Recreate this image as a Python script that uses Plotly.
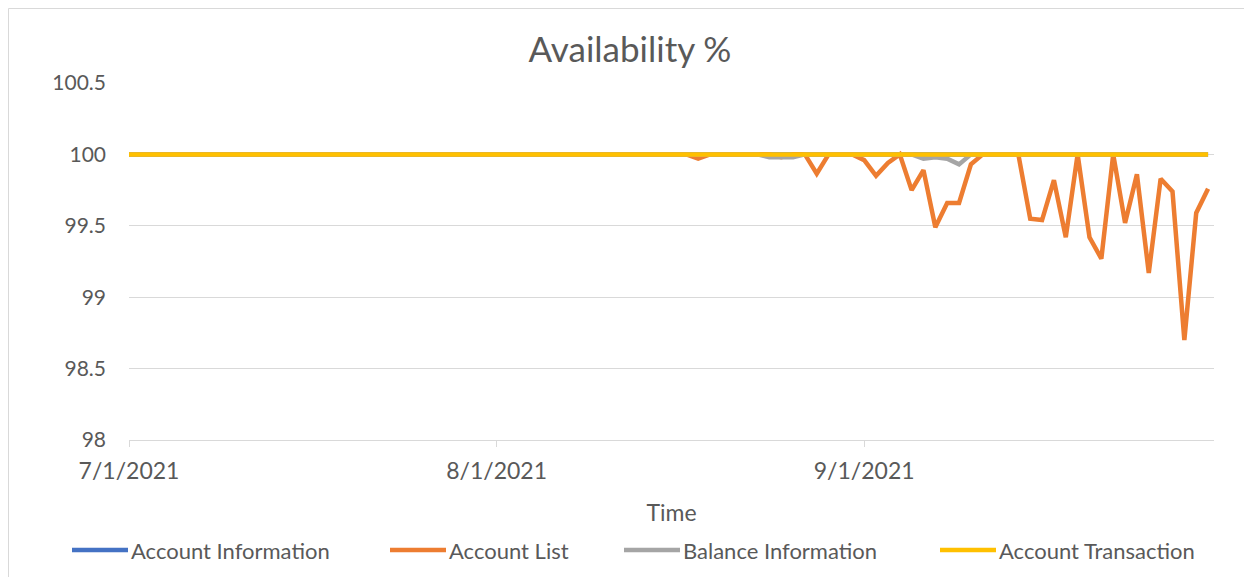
import pandas as pd
import plotly.graph_objects as go

dates = pd.date_range("2021-07-01", "2021-09-30", freq="D")

account_information = [
    100, 100, 100, 100, 100, 100, 100, 100, 100, 100,
    100, 100, 100, 100, 100, 100, 100, 100, 100, 100,
    100, 100, 100, 100, 100, 100, 100, 100, 100, 100,
    100, 100, 100, 100, 100, 100, 100, 100, 100, 100,
    100, 100, 100, 100, 100, 100, 100, 100, 100, 100,
    100, 100, 100, 100, 100, 100, 100, 100, 100, 100,
    100, 100, 100, 100, 100, 100, 100, 100, 100, 100,
    100, 100, 100, 100, 100, 100, 100, 100, 100, 100,
    100, 100, 100, 100, 100, 100, 100, 100, 100, 100,
    100, 100,
]

account_list = [
    100, 100, 100, 100, 100, 100, 100, 100, 100, 100,
    100, 100, 100, 100, 100, 100, 100, 100, 100, 100,
    100, 100, 100, 100, 100, 100, 100, 100, 100, 100,
    100, 100, 100, 100, 100, 100, 100, 100, 100, 100,
    100, 100, 100, 100, 100, 100, 100, 100, 99.97, 100,
    100, 100, 100, 100, 100, 99.98, 100, 100, 99.865, 100,
    100, 100, 99.96, 99.85, 99.94, 100, 99.75, 99.89, 99.49, 99.66,
    99.66, 99.93, 100, 100, 100, 100, 99.55, 99.54, 99.82, 99.42,
    100, 99.42, 99.27, 100, 99.52, 99.86, 99.17, 99.83, 99.74, 98.70,
    99.59, 99.76,
]

balance_information = [
    100, 100, 100, 100, 100, 100, 100, 100, 100, 100,
    100, 100, 100, 100, 100, 100, 100, 100, 100, 100,
    100, 100, 100, 100, 100, 100, 100, 100, 100, 100,
    100, 100, 100, 100, 100, 100, 100, 100, 100, 100,
    100, 100, 100, 100, 100, 100, 100, 100, 100, 100,
    100, 100, 100, 100, 99.98, 99.98, 99.98, 100, 100, 100,
    100, 100, 100, 100, 100, 100, 100, 99.97, 99.98, 99.97,
    99.93, 100, 100, 100, 100, 100, 100, 100, 100, 100,
    100, 100, 100, 100, 100, 100, 100, 100, 100, 100,
    100, 100,
]

account_transaction = [
    100, 100, 100, 100, 100, 100, 100, 100, 100, 100,
    100, 100, 100, 100, 100, 100, 100, 100, 100, 100,
    100, 100, 100, 100, 100, 100, 100, 100, 100, 100,
    100, 100, 100, 100, 100, 100, 100, 100, 100, 100,
    100, 100, 100, 100, 100, 100, 100, 100, 100, 100,
    100, 100, 100, 100, 100, 100, 100, 100, 100, 100,
    100, 100, 100, 100, 100, 100, 100, 100, 100, 100,
    100, 100, 100, 100, 100, 100, 100, 100, 100, 100,
    100, 100, 100, 100, 100, 100, 100, 100, 100, 100,
    100, 100,
]

series_names = ["Account Information", "Account List", "Balance Information", "Account Transaction"]
series_values = [account_information, account_list, balance_information, account_transaction]
series_colors = ["#4472C4", "#ED7D31", "#A5A5A5", "#FFC000"]

x_tickvals = ["2021-07-01", "2021-08-01", "2021-09-01"]
x_ticktext = ["7/1/2021", "8/1/2021", "9/1/2021"]
y_tickvals = [98, 98.5, 99, 99.5, 100, 100.5]
y_ticktext = ["98", "98.5", "99", "99.5", "100", "100.5"]

FONT = "Lato, 'Open Sans', sans-serif"
TXT = "#595959"
GRID = "#D9D9D9"

fig = go.Figure()
for name, vals, col in zip(series_names, series_values, series_colors):
    fig.add_trace(go.Scatter(
        x=dates, y=vals, mode="lines", name=name,
        line=dict(color=col, width=4.5), showlegend=False,
    ))

# page has an 8px body margin; figure sized/positioned to compensate
OFF = 8
W, H = 1252 - OFF, 577 - OFF
# plot area in page px: left 129, right 1214, top 83, bottom 440
L = 129 - OFF
T = 83 - OFF
R = W - (1214 - OFF)
B = H - (440 - OFF)
pw, ph = W - L - R, H - T - B

def px_x(p):
    return (p - OFF - L) / pw

def px_y(p):
    return (H - B - (p - OFF)) / ph

shapes = []
annotations = []
# custom legend (page px positions)
leg_starts = [72, 390, 624, 940]
leg_y = 550
for s, name, col in zip(leg_starts, series_names, series_colors):
    shapes.append(dict(type="line", xref="paper", yref="paper",
                       x0=px_x(s), x1=px_x(s + 56), y0=px_y(leg_y), y1=px_y(leg_y),
                       line=dict(color=col, width=4.5)))
    annotations.append(dict(text=name, xref="paper", yref="paper",
                            x=px_x(s + 57), y=px_y(leg_y), xanchor="left", yanchor="middle",
                            showarrow=False, font=dict(family=FONT, size=22, color=TXT)))
# outer chart border (kept inside the figure canvas)
shapes.append(dict(type="rect", xref="paper", yref="paper",
                   x0=px_x(OFF + 0.5), x1=px_x(1245), y0=px_y(620), y1=px_y(OFF + 0.5),
                   line=dict(color=GRID, width=1), layer="below"))

fig.update_layout(
    width=W, height=H,
    margin=dict(l=L, r=R, t=T, b=B),
    paper_bgcolor="white", plot_bgcolor="white",
    title=dict(text="Availability %", x=0.5, xanchor="center", y=1 - (50 - OFF) / H, yanchor="middle",
               font=dict(family=FONT, size=35, color=TXT)),
    font=dict(family=FONT, size=21, color=TXT),
    showlegend=False,
    shapes=shapes,
    annotations=annotations,
)
fig.update_xaxes(
    type="date",
    range=["2021-07-01", "2021-09-30 12:00"],
    tickvals=x_tickvals, ticktext=x_ticktext,
    showgrid=False, showline=True, linecolor=GRID, linewidth=1,
    ticks="outside", ticklen=6, tickcolor=GRID,
    tickfont=dict(family=FONT, size=23, color=TXT),
    ticklabelstandoff=4,
    title=dict(text="Time", font=dict(family=FONT, size=23, color=TXT), standoff=22),
    zeroline=False,
)
fig.update_yaxes(
    range=[98, 100.5],
    tickvals=y_tickvals, ticktext=y_ticktext,
    showgrid=True, gridcolor=GRID, gridwidth=1,
    showline=False, zeroline=False, ticks="",
    tickfont=dict(family=FONT, size=21, color=TXT),
    ticklabelstandoff=22,
)

fig.write_html("out.html")
